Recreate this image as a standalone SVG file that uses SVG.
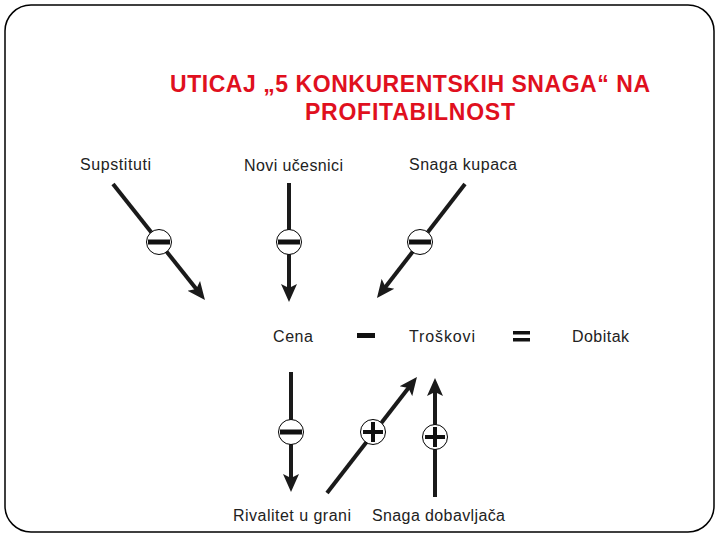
<svg xmlns="http://www.w3.org/2000/svg" width="720" height="540" viewBox="0 0 720 540">
<style>
.frame{fill:#fff;stroke:#000;stroke-width:1.5}
.title{font-family:"Liberation Sans",Arial,sans-serif;font-size:23px;font-weight:bold;fill:#e0101e;text-anchor:middle}
.lbl{font-family:"Liberation Sans",Arial,sans-serif;font-size:16px;fill:#222}
.arr{stroke:#1a1a1a;stroke-width:4;fill:none;marker-end:url(#ah)}
.sgn{fill:#fff;stroke:#000;stroke-width:1}
.bar{fill:#111}
</style>
<defs>
<marker id="ah" markerUnits="userSpaceOnUse" markerWidth="20" markerHeight="18" refX="6" refY="8" orient="auto" viewBox="0 0 20 16">
<path d="M0,0 L18,8 L0,16 L4,8 z" fill="#1a1a1a"/>
</marker>
<g id="minus"><circle class="sgn" r="12.5"/><rect class="bar" x="-11" y="-2.5" width="22" height="5"/></g>
<g id="plus"><circle class="sgn" r="12.5"/><rect class="bar" x="-10" y="-2" width="20" height="4"/><rect class="bar" x="-2" y="-10" width="4" height="20"/></g>
</defs>
<rect class="frame" x="5" y="5" width="709" height="527" rx="26" ry="26"/>
<g id="title">
<text class="title" x="410" y="92" textLength="480" lengthAdjust="spacing">UTICAJ „5 KONKURENTSKIH SNAGA“ NA</text>
<text class="title" x="410" y="120" textLength="210" lengthAdjust="spacing">PROFITABILNOST</text>
</g>
<g id="connectors">
<line class="arr" x1="113" y1="184" x2="197.5" y2="290.6"/>
<line class="arr" x1="289" y1="183" x2="289" y2="290"/>
<line class="arr" x1="465" y1="184" x2="384.3" y2="288.5"/>
<line class="arr" x1="291" y1="372" x2="291" y2="480"/>
<line class="arr" x1="327" y1="493" x2="409.6" y2="386.5"/>
<line class="arr" x1="435" y1="497" x2="435" y2="390"/>
</g>
<g id="signs">
<use href="#minus" x="159" y="242"/>
<use href="#minus" x="289" y="242"/>
<use href="#minus" x="420" y="242"/>
<use href="#minus" x="291" y="432"/>
<use href="#plus" x="373" y="432"/>
<use href="#plus" x="435" y="437"/>
</g>
<g id="op-minus"><rect class="bar" x="357" y="333" width="18" height="5"/></g>
<g id="op-equals"><rect class="bar" x="513" y="331" width="17" height="3.5"/><rect class="bar" x="513" y="338" width="17" height="3.5"/></g>
<g id="n-supstituti"><text class="lbl" x="80" y="170" textLength="71" lengthAdjust="spacing">Supstituti</text></g>
<g id="n-novi"><text class="lbl" x="244" y="171" textLength="99" lengthAdjust="spacing">Novi učesnici</text></g>
<g id="n-kupci"><text class="lbl" x="409" y="170" textLength="108" lengthAdjust="spacing">Snaga kupaca</text></g>
<g id="n-cena"><text class="lbl" x="273" y="342" textLength="40" lengthAdjust="spacing">Cena</text></g>
<g id="n-troskovi"><text class="lbl" x="409" y="342" textLength="66" lengthAdjust="spacing">Troškovi</text></g>
<g id="n-dobitak"><text class="lbl" x="572" y="342" textLength="57" lengthAdjust="spacing">Dobitak</text></g>
<g id="n-rivalitet"><text class="lbl" x="233" y="521" textLength="118" lengthAdjust="spacing">Rivalitet u grani</text></g>
<g id="n-dobavljaci"><text class="lbl" x="372" y="521" textLength="133" lengthAdjust="spacing">Snaga dobavljača</text></g>
</svg>
